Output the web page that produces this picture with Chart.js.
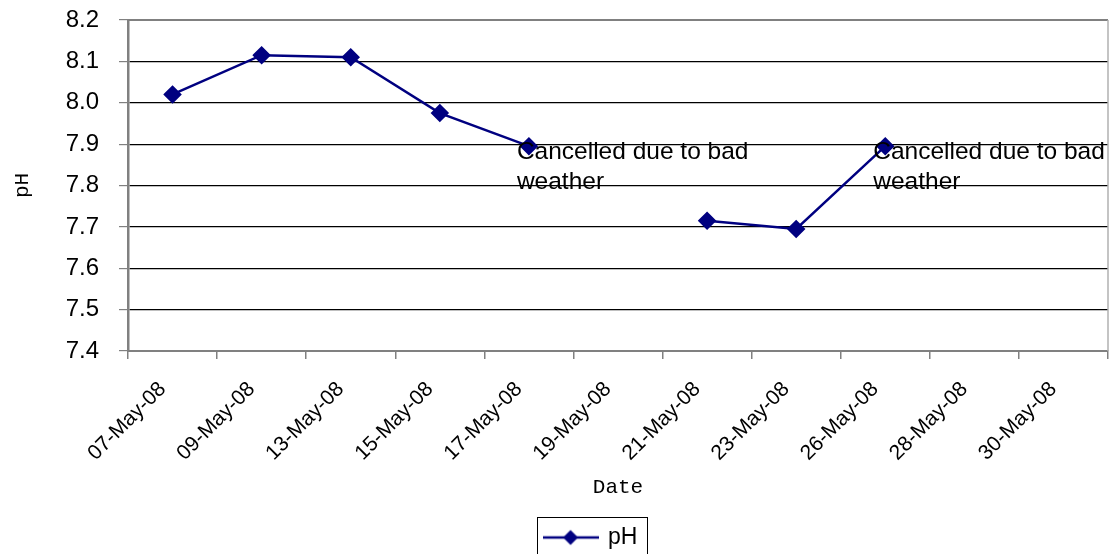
<!DOCTYPE html>
<html>
<head>
<meta charset="utf-8">
<script src="https://cdn.jsdelivr.net/npm/chart.js@4"></script>
<style>
  html, body { margin: 0; padding: 0; background: #fff; }
  #wrap { width: 1110px; height: 554px; }
</style>
</head>
<body>
<div id="wrap"><canvas id="graficoPH" width="1110" height="554"></canvas></div>
<script>
// datos
const fechas = ['07-May-08', '09-May-08', '13-May-08', '15-May-08', '17-May-08', '19-May-08',
                '21-May-08', '23-May-08', '26-May-08', '28-May-08', '30-May-08'];
const valoresPH = [8.02, 8.115, 8.11, 7.975, 7.895, null, 7.715, 7.695, 7.895, null, null];
const notas = [null, null, null, null, 'Cancelled due to bad\nweather', null,
               null, null, 'Cancelled due to bad\nweather', null, null];
const ticksY = [7.4, 7.5, 7.6, 7.7, 7.8, 7.9, 8.0, 8.1, 8.2];

const azul = '#000080';
const gris = '#808080';

// icono de leyenda: linea con rombo
const icono = document.createElement('canvas');
icono.width = 56; icono.height = 18;
(() => {
    const c = icono.getContext('2d');
    c.strokeStyle = azul; c.lineWidth = 2.5;
    c.beginPath(); c.moveTo(0, 9); c.lineTo(56, 9); c.stroke();
    c.fillStyle = azul;
    c.beginPath(); c.moveTo(28, 1.5); c.lineTo(35.5, 9); c.lineTo(28, 16.5); c.lineTo(20.5, 9); c.closePath(); c.fill();
})();

const marcoPlot = {
    id: 'marcoPlot',
    afterLayout(chart) {
        // mover la leyenda como en el original
        chart.legend.left += 74;
        chart.legend.top += 5;
    },
    beforeDatasetsDraw(chart) {
        const { ctx, chartArea: a } = chart;
        ctx.save();
        ctx.strokeStyle = gris;
        ctx.lineWidth = 2;
        ctx.beginPath();
        ctx.moveTo(a.left, a.top); ctx.lineTo(a.right, a.top);
        ctx.stroke();
        ctx.strokeStyle = '#b0b0b0';
        ctx.lineWidth = 1.5;
        ctx.beginPath();
        ctx.moveTo(a.right, a.top); ctx.lineTo(a.right, a.bottom);
        ctx.stroke();
        ctx.restore();
    }
};

const etiquetasNotas = {
    id: 'etiquetasNotas',
    afterDatasetsDraw(chart) {
        const { ctx } = chart;
        const meta = chart.getDatasetMeta(0);
        ctx.save();
        ctx.font = '24.5px "Liberation Sans", Arial, sans-serif';
        ctx.fillStyle = '#000';
        ctx.textAlign = 'left';
        ctx.textBaseline = 'middle';
        notas.forEach((txt, i) => {
            if (!txt) return;
            const p = meta.data[i];
            txt.split('\n').forEach((linea, k) => {
                ctx.fillText(linea, p.x - 12, p.y + 6 + k * 30);
            });
        });
        ctx.restore();
    }
};

const cajaLeyenda = {
    id: 'cajaLeyenda',
    afterDraw(chart) {
        const boxes = chart.legend && chart.legend.legendHitBoxes;
        if (!boxes || !boxes.length) return;
        const b = boxes[0];
        const { ctx } = chart;
        ctx.save();
        ctx.strokeStyle = '#000';
        ctx.lineWidth = 1;
        ctx.strokeRect(Math.round(b.left) - 7.5, Math.round(b.top) - 8.5, Math.round(b.width) + 17, b.height + 30);
        ctx.restore();
    }
};

new Chart(document.getElementById('graficoPH').getContext('2d'), {
    type: 'line',
    data: {
        labels: fechas,
        datasets: [{
            label: 'pH',
            data: valoresPH,
            borderColor: azul,
            backgroundColor: azul,
            borderWidth: 2.5,
            pointStyle: 'rectRot',
            pointRadius: 7.5,
            pointHoverRadius: 7.5,
            pointBackgroundColor: azul,
            pointBorderColor: azul,
            spanGaps: false,
            tension: 0
        }]
    },
    options: {
        responsive: false,
        animation: false,
        layout: { autoPadding: false, padding: { top: 20, right: 2, left: 0, bottom: 0 } },
        plugins: {
            legend: {
                position: 'bottom',
                labels: {
                    usePointStyle: true,
                    pointStyleWidth: 52,
                    padding: 16,
                    color: '#000',
                    font: { size: 23, family: '"Liberation Sans", Arial, sans-serif' },
                    generateLabels: () => [{ text: 'pH', pointStyle: icono, fillStyle: azul, strokeStyle: azul, lineWidth: 0, datasetIndex: 0 }]
                }
            },
            tooltip: { enabled: false }
        },
        scales: {
            x: {
                type: 'category',
                offset: true,
                afterFit: s => { s.height = 154; s.paddingLeft = 0; s.paddingRight = 0; },
                grid: {
                    offset: true,
                    drawOnChartArea: false,
                    drawTicks: true,
                    tickLength: 8,
                    tickColor: gris,
                    lineWidth: 1.5
                },
                border: { color: gris, width: 2 },
                ticks: {
                    minRotation: 45,
                    maxRotation: 45,
                    autoSkip: false,
                    padding: 18,
                    labelOffset: -10,
                    color: '#000',
                    font: { size: 21, family: '"Liberation Sans", Arial, sans-serif' }
                },
                title: {
                    display: true,
                    text: 'Date',
                    color: '#000',
                    padding: { top: 4, bottom: 5 },
                    font: { size: 21, family: '"Liberation Mono", monospace', weight: 'normal' }
                }
            },
            y: {
                min: 7.4,
                max: 8.2,
                afterFit: s => { s.width = 128; s.paddingTop = 0; s.paddingBottom = 0; },
                afterBuildTicks: s => { s.ticks = ticksY.map(v => ({ value: v })); },
                grid: {
                    color: c => (c.tick && (c.tick.value === 7.4 || c.tick.value === 8.2)) ? 'rgba(0,0,0,0)' : '#000',
                    lineWidth: 1.2,
                    drawTicks: true,
                    tickLength: 9,
                    tickColor: gris
                },
                border: { color: gris, width: 2.5 },
                ticks: {
                    padding: 20,
                    color: '#000',
                    font: { size: 24, family: '"Liberation Sans", Arial, sans-serif' },
                    callback: v => Number(v).toFixed(1)
                },
                title: {
                    display: true,
                    text: 'pH',
                    color: '#000',
                    padding: { top: 10, bottom: 0 },
                    font: { size: 21, family: '"Liberation Mono", monospace', weight: 'normal' }
                }
            }
        }
    },
    plugins: [marcoPlot, etiquetasNotas, cajaLeyenda]
});
</script>
</body>
</html>
